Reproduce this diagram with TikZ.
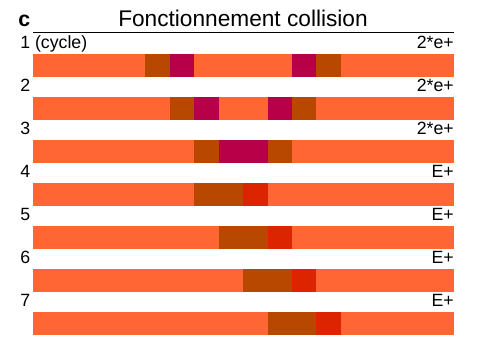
\documentclass[tikz,border=0pt]{standalone}
\usepackage{fontspec}
\setmainfont{Liberation Sans}
\definecolor{cellOrange}{RGB}{255,102,51}
\definecolor{cellBrown}{RGB}{184,72,0}
\definecolor{cellCrimson}{RGB}{184,0,72}
\definecolor{cellRed}{RGB}{221,36,0}
\tikzset{
  bar/.style={fill=cellOrange},
  brown cell/.style={fill=cellBrown},
  crimson cell/.style={fill=cellCrimson},
  red cell/.style={fill=cellRed},
  lbl/.style={inner sep=0pt, font=\fontsize{13.3}{15}\selectfont},
}
\begin{document}
\begin{tikzpicture}[x=0.75pt,y=0.75pt,yscale=-1,xscale=1]
\useasboundingbox (0,0) rectangle (479,359);

% Title
\draw (18,26.7) node [anchor=base west][inner sep=0pt] (panel) {\fontsize{16}{18}\selectfont\bfseries c};
\draw (243,26.7) node [anchor=base][inner sep=0pt] (title) {\fontsize{17}{20}\selectfont Fonctionnement collision};
%Straight Lines
\draw [line width=0.75]   (33,32.3) -- (454,32.3) ;

%Row 1
\draw (20,49) node [anchor=base west][lbl] (num1) {1 (cycle)};
\draw (454,49) node [anchor=base east][lbl] (evt1) {2*e+};
\fill [bar] (33,54) rectangle (454,77) ;
\fill [brown cell] (145,54) rectangle (170,77) ;
\fill [crimson cell] (170,54) rectangle (194,77) ;
\fill [crimson cell] (292,54) rectangle (316,77) ;
\fill [brown cell] (316,54) rectangle (341,77) ;

%Row 2
\draw (20,92) node [anchor=base west][lbl] (num2) {2};
\draw (454,92) node [anchor=base east][lbl] (evt2) {2*e+};
\fill [bar] (33,97) rectangle (454,120) ;
\fill [brown cell] (170,97) rectangle (194,120) ;
\fill [crimson cell] (194,97) rectangle (219,120) ;
\fill [crimson cell] (268,97) rectangle (292,120) ;
\fill [brown cell] (292,97) rectangle (316,120) ;

%Row 3
\draw (20,135) node [anchor=base west][lbl] (num3) {3};
\draw (454,135) node [anchor=base east][lbl] (evt3) {2*e+};
\fill [bar] (33,140) rectangle (454,163) ;
\fill [brown cell] (194,140) rectangle (219,163) ;
\fill [crimson cell] (219,140) rectangle (268,163) ;
\fill [brown cell] (268,140) rectangle (292,163) ;

%Row 4
\draw (20,178) node [anchor=base west][lbl] (num4) {4};
\draw (454,178) node [anchor=base east][lbl] (evt4) {E+};
\fill [bar] (33,183) rectangle (454,206) ;
\fill [brown cell] (194,183) rectangle (243,206) ;
\fill [red cell] (243,183) rectangle (268,206) ;

%Row 5
\draw (20,221) node [anchor=base west][lbl] (num5) {5};
\draw (454,221) node [anchor=base east][lbl] (evt5) {E+};
\fill [bar] (33,226) rectangle (454,249) ;
\fill [brown cell] (219,226) rectangle (268,249) ;
\fill [red cell] (268,226) rectangle (292,249) ;

%Row 6
\draw (20,264) node [anchor=base west][lbl] (num6) {6};
\draw (454,264) node [anchor=base east][lbl] (evt6) {E+};
\fill [bar] (33,269) rectangle (454,292) ;
\fill [brown cell] (243,269) rectangle (292,292) ;
\fill [red cell] (292,269) rectangle (316,292) ;

%Row 7
\draw (20,307) node [anchor=base west][lbl] (num7) {7};
\draw (454,307) node [anchor=base east][lbl] (evt7) {E+};
\fill [bar] (33,312) rectangle (454,335) ;
\fill [brown cell] (268,312) rectangle (316,335) ;
\fill [red cell] (316,312) rectangle (341,335) ;

\end{tikzpicture}
\end{document}
